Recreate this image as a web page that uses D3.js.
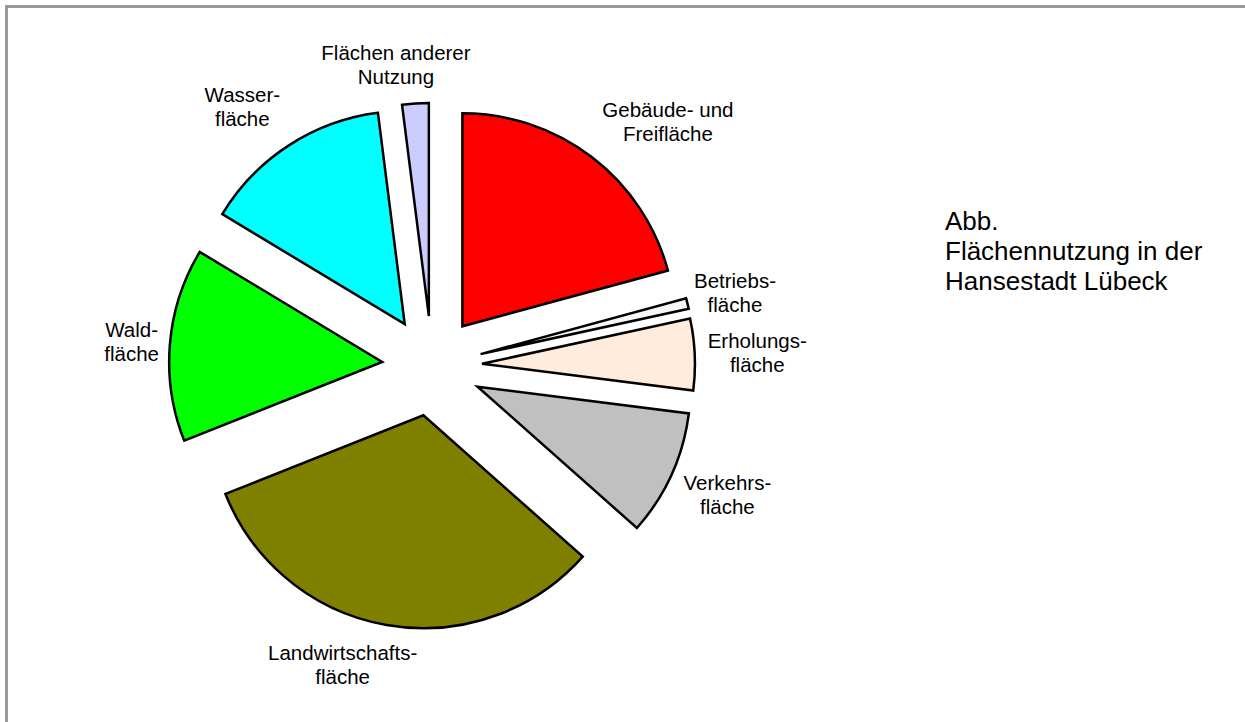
<!DOCTYPE html>
<html>
<head>
<meta charset="utf-8">
<script src="https://cdn.jsdelivr.net/npm/d3@7"></script>
<style>
  body { margin: 0; background: #fff; }
  text { font-family: "Liberation Sans", Arial, sans-serif; fill: #000; }
</style>
</head>
<body>
<div class="pieChart"></div>
<script>
// Flächennutzung Lübeck, Anteile in Prozent
var categories = ['Gebäude- und Freifläche', 'Betriebsfläche', 'Erholungsfläche', 'Verkehrsfläche',
  'Landwirtschaftsfläche', 'Waldfläche', 'Wasserfläche', 'Flächen anderer Nutzung'];
var shares = [20.7, 0.8, 5.4, 9.5, 32.3, 14.6, 14.3, 2.0];
var labelLines = [['Gebäude- und', 'Freifläche'], ['Betriebs-', 'fläche'], ['Erholungs-', 'fläche'],
  ['Verkehrs-', 'fläche'], ['Landwirtschafts-', 'fläche'], ['Wald-', 'fläche'], ['Wasser-', 'fläche'],
  ['Flächen anderer', 'Nutzung']];
var colors = ['#ff0000', '#f7f7f7', '#ffecdc', '#c0c0c0', '#808000', '#00ff00', '#00ffff', '#ccccff'];
var titleLines = ['Abb.', 'Flächennutzung in der', 'Hansestadt Lübeck'];

var width = 1245, height = 722;
var cx = 432, cy = 366, radius = 213, explode = 50;
// kleine Korrekturen der Beschriftung (dx, dy), wie Excel sie setzt
var labelNudge = [[29, -4], [-4, 1], [1, 3], [5, 8], [-29, 7], [1, 3], [-19, -6], [-14, 0]];

var svg = d3.select('.pieChart')
  .append('svg')
    .attr('width', width)
    .attr('height', height);

svg.append('rect').attr('width', width).attr('height', height).attr('fill', '#fff');

// grauer Rahmen oben und links
svg.append('line').attr('x1', 5).attr('x2', width).attr('y1', 6.5).attr('y2', 6.5)
  .attr('stroke', '#999').attr('stroke-width', 3);
svg.append('line').attr('x1', 6.5).attr('x2', 6.5).attr('y1', 5).attr('y2', height)
  .attr('stroke', '#999').attr('stroke-width', 3);

var data = categories.map((c, i) => ({ name: c, value: shares[i], color: colors[i], lines: labelLines[i], nudge: labelNudge[i] }));

var pie = d3.pie().sort(null).value(d => d.value).startAngle(0).endAngle(2 * Math.PI);
var arc = d3.arc().innerRadius(0).outerRadius(radius);
var arcs = pie(data);

var g = svg.append('g').attr('transform', `translate(${cx}, ${cy})`);

function mid(d) { return (d.startAngle + d.endAngle) / 2; }

g.selectAll('path')
  .data(arcs)
  .enter()
  .append('path')
    .attr('d', arc)
    .attr('transform', d => `translate(${explode * Math.sin(mid(d))}, ${-explode * Math.cos(mid(d))})`)
    .attr('fill', d => d.data.color)
    .attr('stroke', '#000')
    .attr('stroke-width', 2.5)
    .attr('stroke-linejoin', 'miter');

// Beschriftungen ausserhalb der Segmente
var lineH = 24, fs = 20.5;
var labels = g.selectAll('g.label')
  .data(arcs)
  .enter()
  .append('g')
    .attr('class', 'label');

labels.each(function (d) {
  var grp = d3.select(this);
  var t = grp.append('text')
    .attr('text-anchor', 'middle')
    .style('font-size', fs + 'px');
  d.data.lines.forEach((l, i) => {
    t.append('tspan').attr('x', 0).attr('y', i * lineH).text(l);
  });
  var w = d3.max(t.selectAll('tspan').nodes(), n => n.getComputedTextLength());
  var h = d.data.lines.length * lineH;
  var a = mid(d), r = explode + radius + 12;
  var px = r * Math.sin(a) + Math.sin(a) * w / 2 + d.data.nudge[0];
  var py = -r * Math.cos(a) - Math.cos(a) * h / 2 + d.data.nudge[1];
  // py ist Mitte des Textblocks; erste Grundlinie etwas darüber
  grp.attr('transform', `translate(${px}, ${py - h / 2 + fs * 0.8})`);
});

// Titel rechts
var title = svg.append('text')
  .attr('x', 945)
  .attr('y', 230)
  .style('font-size', '26px');
title.selectAll('tspan')
  .data(titleLines)
  .enter()
  .append('tspan')
    .attr('x', 945)
    .attr('y', (d, i) => 230 + i * 30)
    .text(d => d);
</script>
</body>
</html>
